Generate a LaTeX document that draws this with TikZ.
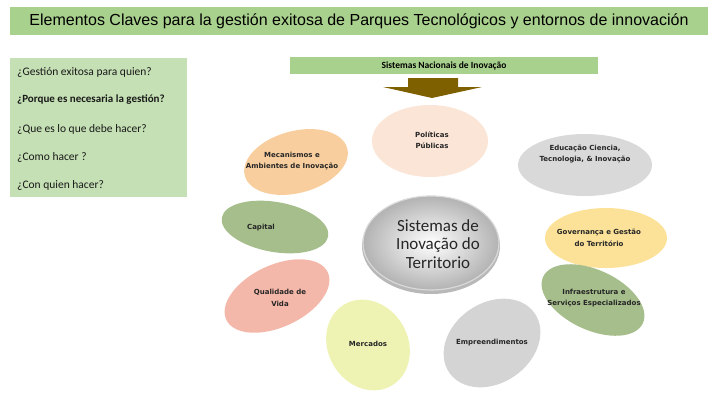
\documentclass[tikz,border=0pt]{standalone}
\usepackage{fontspec}
\setmainfont{Carlito}
\newfontfamily\arialfont{Liberation Sans}
\newfontfamily\dejavufont{DejaVu Sans}
\usetikzlibrary{shapes.geometric}
\definecolor{ctitle}{RGB}{169,209,142}
\definecolor{cbox}{RGB}{197,224,180}
\definecolor{carrow}{RGB}{127,96,0}
\definecolor{cpol}{RGB}{251,229,214}
\definecolor{cmec}{RGB}{249,206,158}
\definecolor{cgray}{RGB}{217,217,217}
\definecolor{cgreen}{RGB}{166,190,140}
\definecolor{cgov}{RGB}{252,226,152}
\definecolor{cqua}{RGB}{244,184,170}
\definecolor{cmer}{RGB}{238,243,180}
\definecolor{cemp}{RGB}{212,212,212}

\begin{document}
\begin{tikzpicture}[x=1pt,y=-1pt,
  blob/.style={ellipse,inner sep=0pt},
  lbl/.style={font=\dejavufont\bfseries\fontsize{7}{11.5}\selectfont,align=center,text=black!85},
  ask/.style={anchor=west,inner sep=0pt,font=\fontsize{11.5}{13}\selectfont,text=black!90}]
\useasboundingbox (0,0) rectangle (720,405);
% title and questions
\node[fill=ctitle,minimum width=698pt,minimum height=28pt,
  font=\arialfont\fontsize{16}{18}\selectfont] (T) at (359,21)
  {Elementos Claves para la gestión exitosa de Parques Tecnológicos y entornos de innovación};
\fill[cbox] (10,58) rectangle (187,197);
\node[ask] (Q1) at (17,72) {¿Gestión exitosa para quien?};
\node[ask,font=\bfseries\fontsize{11}{13}\selectfont] (Q2) at (17,100) {¿Porque es necesaria la gestión?};
\node[ask] (Q3) at (17,129) {¿Que es lo que debe hacer?};
\node[ask] (Q4) at (17,157) {¿Como hacer ?};
\node[ask] (Q5) at (17,185) {¿Con quien hacer?};
% national system and arrow
\node[fill=ctitle,minimum width=308pt,minimum height=17pt,
  font=\bfseries\fontsize{9.5}{11}\selectfont] (N) at (444,65.5) {Sistemas Nacionais de Inovação};
\fill[carrow] (408,78)--(458,78)--(458,87)--(482,87)--(432,98)--(383,87)--(408,87)--cycle;
% ellipses
\node[blob,fill=cpol,minimum width=116pt,minimum height=72pt] (P) at (430,141) {};
\node[blob,fill=cmec,minimum width=106pt,minimum height=62pt,rotate=15] (M) at (296,162) {};
\node[blob,fill=cgray,minimum width=134pt,minimum height=62pt] (E) at (585,165) {};
\node[blob,fill=cgreen,minimum width=108pt,minimum height=50pt,rotate=-10] (C) at (275,227) {};
\node[blob,fill=cgov,minimum width=122pt,minimum height=60pt] (G) at (606,238) {};
\node[blob,fill=cgreen,minimum width=110pt,minimum height=60pt,rotate=-25] (I) at (593,300) {};
\node[blob,fill=cqua,minimum width=112pt,minimum height=62pt,rotate=25] (Q) at (277,296) {};
\node[blob,fill=cmer,minimum width=94pt,minimum height=80pt,rotate=-60] (K) at (368,345) {};
\node[blob,fill=cemp,minimum width=104pt,minimum height=80pt,rotate=35] (R) at (492,343) {};
\fill[black!28] (431,246) ellipse [x radius=69, y radius=48];
\node[blob,draw=black!15,line width=1.2pt,inner color=white,outer color=black!30,
  minimum width=136pt,minimum height=94pt] (S) at (431,243) {};
% labels
\node[lbl] (Pt) at (432,140) {Políticas\\Públicas};
\node[lbl] (Mt) at (292,161) {Mecanismos e\\Ambientes de Inovação};
\node[lbl] (Et) at (585,154) {Educação Ciencia,\\Tecnologia, \& Inovação};
\node[lbl] (Ct) at (261,228) {Capital};
\node[lbl] (Gt) at (599,238) {Governança e Gestão\\do Território};
\node[lbl] (It) at (594,298) {Infraestrutura e\\Serviços Especializados};
\node[lbl] (Qt) at (280,298) {Qualidade de\\Vida};
\node[lbl] (Kt) at (368,344) {Mercados};
\node[lbl] (Rt) at (492,343) {Empreendimentos};
\node[align=center,font=\fontsize{17}{18.5}\selectfont,text=black!85] (St) at (438,244)
  {Sistemas de\\Inovação do\\Territorio};
\end{tikzpicture}
\end{document}
